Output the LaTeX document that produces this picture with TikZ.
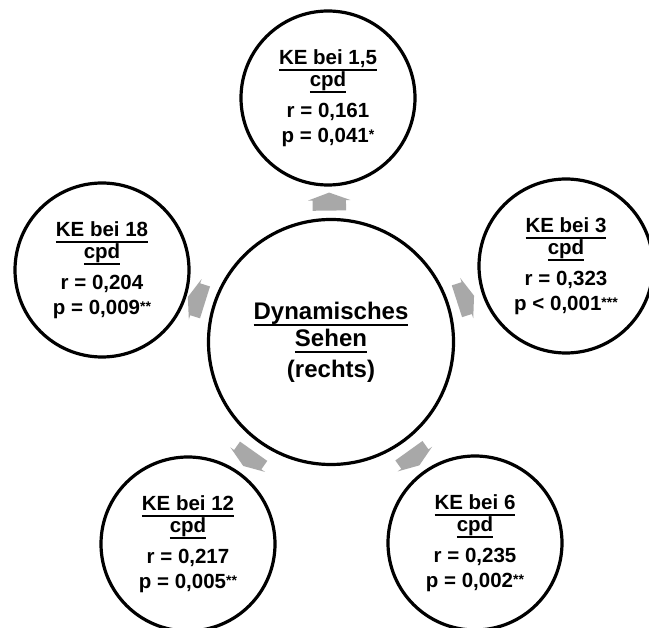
\documentclass[tikz,border=0pt]{standalone}
\usepackage{fontspec}
\setmainfont{Liberation Sans}
\usetikzlibrary{shapes.arrows}
\definecolor{arrowgray}{RGB}{168,168,168}
\newcommand\myul[1]{\setbox0=\hbox{#1}\leavevmode\rlap{\rule[-6.5pt]{\wd0}{1.9pt}}\box0}
\newcommand\stars[1]{\raisebox{3pt}{\fontsize{14}{14}\selectfont #1}}
\begin{document}
\begin{tikzpicture}[x=1pt,y=-1pt,
  outer/.style={circle, draw, line width=3.2pt, minimum size=174pt, inner sep=0pt, align=center,
    font=\fontsize{20.5}{21}\selectfont\bfseries},
  core/.style={circle, draw, line width=3.2pt, minimum size=245pt, inner sep=0pt, align=center,
    font=\fontsize{24}{27}\selectfont\bfseries},
  blockarrow/.style={single arrow, fill=arrowgray, draw=none, minimum height=18pt, minimum width=0pt,
    single arrow head extend=4.5pt, single arrow tip angle=140, inner xsep=0pt, inner ysep=16.5pt,
    sloped, allow upside down}]
\useasboundingbox (0,0) rectangle (649,628);
\fill[white] (0,0) rectangle (649,628);
\node[core] (C) at (331,342) {\myul{Dynamisches}\\\myul{Sehen}\\[4pt](rechts)};
\node[outer] (T) at (328,98) {\myul{KE bei 1,5}\\\myul{cpd}\\[10pt]r = 0,161\\[4pt]p = 0,041\stars{*}};
\node[outer] (R) at (566,266) {\myul{KE bei 3}\\\myul{cpd}\\[10pt]r = 0,323\\[4pt]p < 0,001\stars{***}};
\node[outer] (L) at (102,270) {\myul{KE bei 18}\\\myul{cpd}\\[10pt]r = 0,204\\[4pt]p = 0,009\stars{**}};
\node[outer] (BL) at (188,544) {\myul{KE bei 12}\\\myul{cpd}\\[10pt]r = 0,217\\[4pt]p = 0,005\stars{**}};
\node[outer] (BR) at (475,543) {\myul{KE bei 6}\\\myul{cpd}\\[10pt]r = 0,235\\[4pt]p = 0,002\stars{**}};
\path (C.center) -- (T.center) node[blockarrow, pos=0.563] (aT) {};
\path (C.center) -- (R.center) node[blockarrow, pos=0.56] (aR) {};
\path (C.center) -- (L.center) node[blockarrow, pos=0.575] (aL) {};
\path (C.center) -- (BL.center) node[blockarrow, pos=0.565] (aBL) {};
\path (C.center) -- (BR.center) node[blockarrow, pos=0.565] (aBR) {};
\end{tikzpicture}
\end{document}
